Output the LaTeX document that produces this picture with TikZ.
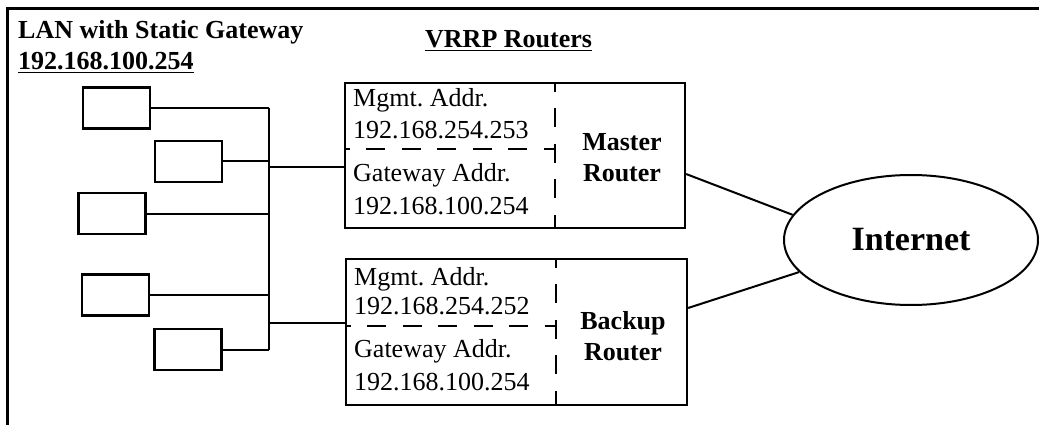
\documentclass[tikz,border=0pt]{standalone}
\usepackage{fontspec}
\setmainfont{Liberation Serif}
\usetikzlibrary{shapes.geometric}
\frenchspacing
\begin{document}
\begin{tikzpicture}[x=1pt,y=-1pt,
  every node/.style={font=\fontsize{26}{31}\selectfont},
  ln/.style={line width=2pt},
  hostbox/.style={draw,line width=2.2pt,minimum width=67pt,minimum height=41pt,inner sep=0pt},
  routerbox/.style={draw,line width=2.2pt,minimum width=340pt,minimum height=145pt,inner sep=0pt},
  dsh/.style={line width=2pt,dash pattern=on 19pt off 16.5pt},
  lbl/.style={anchor=base west,inner sep=0pt},
  blbl/.style={anchor=base,inner sep=0pt,font=\fontsize{26}{31}\selectfont\bfseries}]
\useasboundingbox (0,0) rectangle (1039,425);
% frame
\draw[line width=3pt] (1039,9) -- (7,9) -- (7,425);
% titles
\node[lbl,font=\fontsize{26}{31}\selectfont\bfseries] (t1) at (18,39) {LAN with Static Gateway};
\node[lbl,font=\fontsize{26}{31}\selectfont\bfseries] (t2) at (18,70) {\underline{192.168.100.254}};
\node[lbl,font=\fontsize{26}{31}\selectfont\bfseries] (t3) at (425,48) {\underline{VRRP Routers}};
% hosts
\node[hostbox] (h1) at (116.5,108) {};
\node[hostbox] (h2) at (188.5,161.5) {};
\node[hostbox] (h3) at (112,213.5) {};
\node[hostbox] (h4) at (115.5,295) {};
\node[hostbox] (h5) at (188,349.5) {};
\coordinate (bus) at (269,0);
% routers
\node[routerbox] (master) at (515,155.5) {};
\node[routerbox,minimum width=341pt,minimum height=146pt] (backup) at (516.5,332) {};
% dashed dividers
\coordinate (mdv) at (555,0);
\coordinate (bdv) at (556,0);
\draw[dsh,dash phase=9pt] (master.north -| mdv) -- (master.south -| mdv);
\draw[dsh,dash phase=13pt] (master.west |- 0,149) -- (mdv |- 0,149);
\draw[dsh,dash phase=9pt] (backup.north -| bdv) -- (backup.south -| bdv);
\draw[dsh,dash phase=13pt] (backup.west |- 0,326) -- (bdv |- 0,326);
% router texts
\node[lbl] (m1) at (353,107) {Mgmt. Addr.};
\node[lbl] (m2) at (353,139) {192.168.254.253};
\node[lbl] (m3) at (353,182) {Gateway Addr.};
\node[lbl] (m4) at (353,214) {192.168.100.254};
\node[blbl] (m5) at (622,151) {Master};
\node[blbl] (m6) at (622,182) {Router};
\node[lbl] (b1) at (354,285) {Mgmt. Addr.};
\node[lbl] (b2) at (354,314) {192.168.254.252};
\node[lbl] (b3) at (354,357) {Gateway Addr.};
\node[lbl] (b4) at (354,390) {192.168.100.254};
\node[blbl] (b5) at (623,329) {Backup};
\node[blbl] (b6) at (623,360) {Router};
% internet
\node[ellipse,draw,line width=2pt,minimum width=254pt,minimum height=130pt,inner sep=0pt,
  font=\fontsize{34}{40}\selectfont\bfseries] (inet) at (911,240) {Internet};
% LAN wiring
\draw[ln] (h1.east) -- (h1.east -| bus);
\draw[ln] (h2.east) -- (h2.east -| bus);
\draw[ln] (h3.east) -- (h3.east -| bus);
\draw[ln] (h4.east) -- (h4.east -| bus);
\draw[ln] (h5.east) -- (h5.east -| bus);
\draw[ln] (h1.east -| bus) -- (h5.east -| bus);
\path (master.west) ++(0,11.5) coordinate (mi);
\path (backup.west) ++(0,-9) coordinate (bi);
\draw[ln] (mi -| bus) -- (mi);
\draw[ln] (bi -| bus) -- (bi);
% internet links
\path (master.east) ++(0,18.5) coordinate (mo);
\path (backup.east) ++(0,-24) coordinate (bo);
\draw[ln] (mo) -- (inet.168);
\draw[ln] (bo) -- (inet.196);
\end{tikzpicture}
\end{document}
